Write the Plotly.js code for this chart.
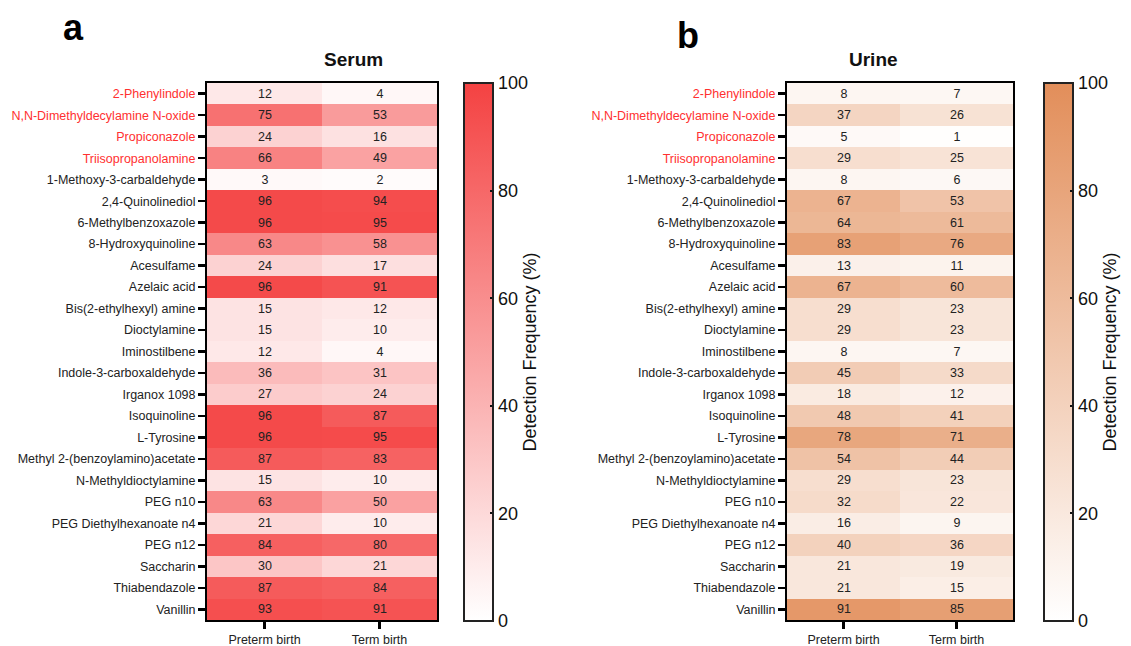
<!DOCTYPE html>
<html>
<head>
<meta charset="utf-8">
<script src="https://cdn.plot.ly/plotly-3.0.1.min.js"></script>
<style>html,body{margin:0;padding:0;background:#fff;}#chart{width:1131px;height:646px;}</style>
</head>
<body>
<div id="chart"></div>
<script>
const compounds = ["2-Phenylindole","N,N-Dimethyldecylamine N-oxide","Propiconazole","Triisopropanolamine","1-Methoxy-3-carbaldehyde","2,4-Quinolinediol","6-Methylbenzoxazole","8-Hydroxyquinoline","Acesulfame","Azelaic acid","Bis(2-ethylhexyl) amine","Dioctylamine","Iminostilbene","Indole-3-carboxaldehyde","Irganox 1098","Isoquinoline","L-Tyrosine","Methyl 2-(benzoylamino)acetate","N-Methyldioctylamine","PEG n10","PEG Diethylhexanoate n4","PEG n12","Saccharin","Thiabendazole","Vanillin"];
const highlighted = ["2-Phenylindole","N,N-Dimethyldecylamine N-oxide","Propiconazole","Triisopropanolamine"];
const groups = ["Preterm birth","Term birth"];
const serumPreterm = [12,75,24,66,3,96,96,63,24,96,15,15,12,36,27,96,96,87,15,63,21,84,30,87,93];
const serumTerm    = [4,53,16,49,2,94,95,58,17,91,12,10,4,31,24,87,95,83,10,50,10,80,21,84,91];
const urinePreterm = [8,37,5,29,8,67,64,83,13,67,29,29,8,45,18,48,78,54,29,32,16,40,21,21,91];
const urineTerm    = [7,26,1,25,6,53,61,76,11,60,23,23,7,33,12,41,71,44,23,22,9,36,19,15,85];
const panelTitles = ["Serum","Urine"];
const panelLetters = ["a","b"];
const cbTitle = "Detection Frequency (%)";
const cbTicks = [0,20,40,60,80,100];

const W = 1131, H = 646;
const px = v => v / W, py = v => 1 - v / H;
const FONT = 'Liberation Sans, Arial, sans-serif';

const zSerum = compounds.map((c,i)=>[serumPreterm[i], serumTerm[i]]);
const zUrine = compounds.map((c,i)=>[urinePreterm[i], urineTerm[i]]);
const tickText = compounds.map(c => highlighted.includes(c) ? '<span style="color:#ff3030">'+c+'</span>' : c);

function hm(z, xa, ya, ca){
  return {type:'heatmap', z:z, x:groups, y:compounds, xaxis:xa, yaxis:ya, coloraxis:ca,
    texttemplate:'%{z}', textfont:{size:12.5, color:'#222', family:FONT},
    xgap:0, ygap:0, hoverinfo:'skip'};
}

const axX = d => ({domain:d, showline:true, mirror:true, linewidth:2, linecolor:'#000', ticks:'outside', ticklen:7, tickwidth:2.5, tickcolor:'#000', tickfont:{size:12.5, color:'#222'}, showgrid:false, zeroline:false, fixedrange:true});
const axY = (d, anchor) => ({domain:d, anchor:anchor, autorange:'reversed', showline:true, mirror:true, linewidth:2, linecolor:'#000', ticks:'outside', ticklen:7, tickwidth:2.5, tickcolor:'#000', tickfont:{size:12.5, color:'#222'}, tickvals:compounds, ticktext:tickText, showgrid:false, zeroline:false, fixedrange:true});

const cbTop = 83, cbBot = 621;
const yd = [py(620), py(83)];
const cb = (x) => ({x:px(x), xanchor:'left', xpad:0, ypad:0, y:py(cbBot), yanchor:'bottom', len:(cbBot-cbTop)/H, lenmode:'fraction', thickness:29,
  outlinewidth:2, outlinecolor:'#222', tickvals:cbTicks, ticks:'inside', ticklen:4, tickwidth:2, tickcolor:'#111',
  tickprefix:'\u00a0\u00a0\u00a0', tickfont:{size:18, color:'#111'}, title:{text:cbTitle, side:'right', font:{size:18, color:'#111'}}});

const layout = {
  width:W, height:H, margin:{l:0,r:0,t:0,b:0}, paper_bgcolor:'#fff', plot_bgcolor:'rgba(0,0,0,0)',
  font:{family:FONT, color:'#222'}, showlegend:false,
  xaxis: Object.assign(axX([px(207), px(437)]), {anchor:'y'}),
  yaxis: axY(yd, 'x'),
  xaxis2: Object.assign(axX([px(787), px(1013)]), {anchor:'y2'}),
  yaxis2: axY(yd, 'x2'),
  coloraxis:{cmin:0, cmax:100, colorscale:[[0,'#ffffff'],[1,'rgb(244,66,66)']], colorbar:cb(464)},
  coloraxis2:{cmin:0, cmax:100, colorscale:[[0,'#ffffff'],[1,'rgb(226,142,90)']], colorbar:cb(1044)},
  annotations:[
    {text:'<b>'+panelTitles[0]+'</b>', x:px(322), y:py(60), xref:'paper', yref:'paper', yanchor:'middle', showarrow:false, font:{size:19, color:'#111'}},
    {text:'<b>'+panelTitles[1]+'</b>', x:px(900), y:py(60), xref:'paper', yref:'paper', yanchor:'middle', showarrow:false, font:{size:19, color:'#111'}},
    {text:'<b>'+panelLetters[0]+'</b>', x:px(61), y:py(27), xref:'paper', yref:'paper', yanchor:'middle', showarrow:false, font:{size:36, color:'#000'}},
    {text:'<b>'+panelLetters[1]+'</b>', x:px(688), y:py(36), xref:'paper', yref:'paper', yanchor:'middle', showarrow:false, font:{size:36, color:'#000'}}
  ]
};

const traces = [hm(zSerum,'x','y','coloraxis'), hm(zUrine,'x2','y2','coloraxis2')];
Plotly.newPlot('chart', traces, layout, {displayModeBar:false, staticPlot:true});
</script>
</body>
</html>
